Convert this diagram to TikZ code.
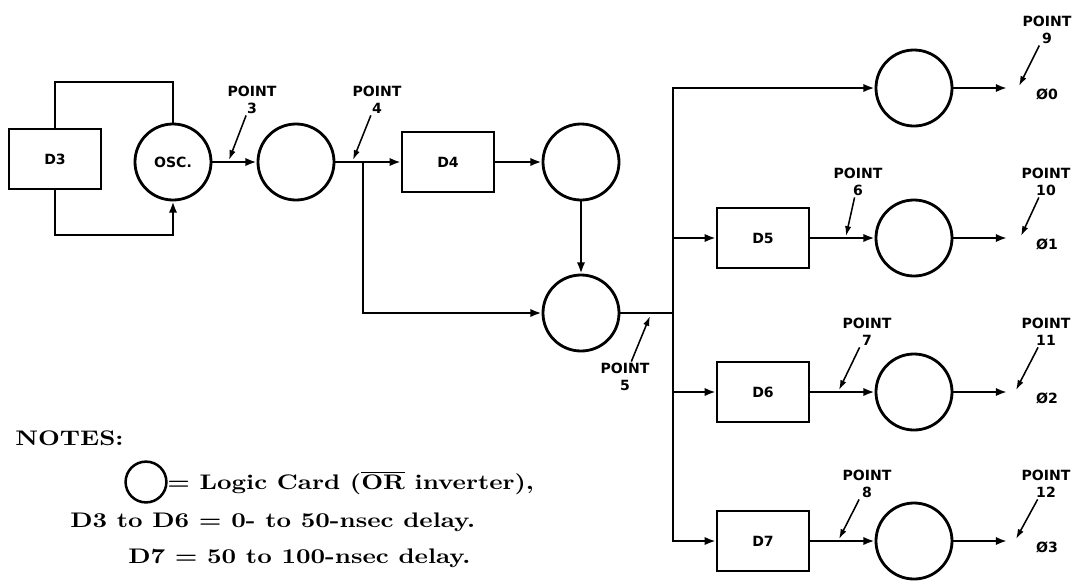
\documentclass[tikz,border=0pt]{standalone}
\usepackage{fontspec}
\setsansfont{DejaVu Sans}
\newfontfamily\notefont{lmroman10-bold}[Extension=.otf, FakeStretch=1.2]
\usetikzlibrary{arrows.meta}

\tikzset{
  fil/.style={line width=1.6pt},
  fleche/.style={fil, -{Latex[length=8pt,width=6pt]}},
  pointe/.style={line width=1.1pt, -{Latex[length=7pt,width=4.5pt]}},
  lettrage/.style={font=\sffamily\bfseries\fontsize{10}{12}\selectfont},
  boite/.style={draw, line width=1.7pt, minimum width=2.3cm, minimum height=1.5cm, lettrage},
  carte/.style={draw, circle, line width=2pt, minimum size=1.9cm, lettrage},
  repere/.style={lettrage, align=center, inner sep=1pt},
  note/.style={font=\notefont\fontsize{15}{18}\selectfont, inner sep=0pt},
}

\begin{document}
\begin{tikzpicture}[x=0.025cm, y=-0.025cm]
			\useasboundingbox (0,0) rectangle (1073,581);
			%Noeuds du schéma
			\node[boite] (D3) at (55,159) {D3};
			\node[carte] (OSC) at (173,162) {OSC.};
			\node[carte] (C1) at (296,162) {};
			\node[boite] (D4) at (448,162) {D4};
			\node[carte] (C2) at (581,162) {};
			\node[carte] (C3) at (581,313) {};
			\node[carte] (C0) at (914,88) {};
			\node[boite] (D5) at (763,238) {D5};
			\node[carte] (C5) at (914,238) {};
			\node[boite] (D6) at (763,392) {D6};
			\node[carte] (C6) at (914,392) {};
			\node[boite] (D7) at (763,541) {D7};
			\node[carte] (C7) at (914,541) {};
			\coordinate (j4) at (363,162);
			\coordinate (j5) at (673,313);
			\coordinate (s0) at (1007,88);
			\coordinate (s1) at (1007,238);
			\coordinate (s2) at (1007,392);
			\coordinate (s3) at (1007,541);
			%Liaisons
			\draw[fil] (D3.north) -- ++(0,-46) -| (OSC.north);
			\draw[fleche] (D3.south) -- ++(0,45) -| (OSC.south);
			\draw[fleche] (OSC) -- (C1);
			\draw[fleche] (C1) -- (D4);
			\draw[fleche] (j4) |- (C3);
			\draw[fleche] (D4) -- (C2);
			\draw[fleche] (C2) -- (C3);
			\draw[fil] (C3) -- (j5);
			\draw[fleche] (j5) |- (C0);
			\draw[fleche] (j5) |- (D5);
			\draw[fleche] (j5) |- (D6);
			\draw[fleche] (j5) |- (D7);
			\draw[fleche] (D5) -- (C5);
			\draw[fleche] (D6) -- (C6);
			\draw[fleche] (D7) -- (C7);
			\draw[fleche] (C0) -- (s0);
			\draw[fleche] (C5) -- (s1);
			\draw[fleche] (C6) -- (s2);
			\draw[fleche] (C7) -- (s3);
			%Sorties
			\node[repere] (F0) at (1047,94) {Ø0};
			\node[repere] (F1) at (1047,244) {Ø1};
			\node[repere] (F2) at (1047,398) {Ø2};
			\node[repere] (F3) at (1047,547) {Ø3};
			%Points de mesure
			\node[repere] (P3) at (252,100) {POINT\\3};
			\node[repere] (P4) at (377,100) {POINT\\4};
			\node[repere] (P5) at (625,377) {POINT\\5};
			\node[repere] (P6) at (858,182) {POINT\\6};
			\node[repere] (P7) at (867,332) {POINT\\7};
			\node[repere] (P8) at (867,484) {POINT\\8};
			\node[repere] (P9) at (1047,30) {POINT\\9};
			\node[repere] (P10) at (1046,182) {POINT\\10};
			\node[repere] (P11) at (1046,332) {POINT\\11};
			\node[repere] (P12) at (1046,484) {POINT\\12};
			\coordinate (t3) at (229,160);
			\coordinate (t4) at (353,160);
			\coordinate (t5) at (650,316);
			\coordinate (t6) at (846,236);
			\coordinate (t7) at (839,390);
			\coordinate (t8) at (839,539);
			\coordinate (t9) at (1019,86);
			\coordinate (t10) at (1021,236);
			\coordinate (t11) at (1016,390);
			\coordinate (t12) at (1016,539);
			\draw[pointe] (P3) -- (t3);
			\draw[pointe] (P4) -- (t4);
			\draw[pointe] (P5) -- (t5);
			\draw[pointe] (P6) -- (t6);
			\draw[pointe] (P7) -- (t7);
			\draw[pointe] (P8) -- (t8);
			\draw[pointe] (P9) -- (t9);
			\draw[pointe] (P10) -- (t10);
			\draw[pointe] (P11) -- (t11);
			\draw[pointe] (P12) -- (t12);
			%Notes
			\node[note, anchor=base west] (N0) at (15,445) {NOTES:};
			\node[draw, circle, line width=1.8pt, minimum size=1.02cm, inner sep=0pt] (N1) at (146,482) {};
			\node[note, anchor=base west] (N1t) at (167,489) {= Logic Card (\(\overline{\mbox{OR}}\) inverter),};
			\node[note, anchor=base west] (N2) at (70,527) {D3 to D6 = 0- to 50-nsec delay.};
			\node[note, anchor=base west] (N3) at (128,563) {D7 = 50 to 100-nsec delay.};
		\end{tikzpicture}
\end{document}
